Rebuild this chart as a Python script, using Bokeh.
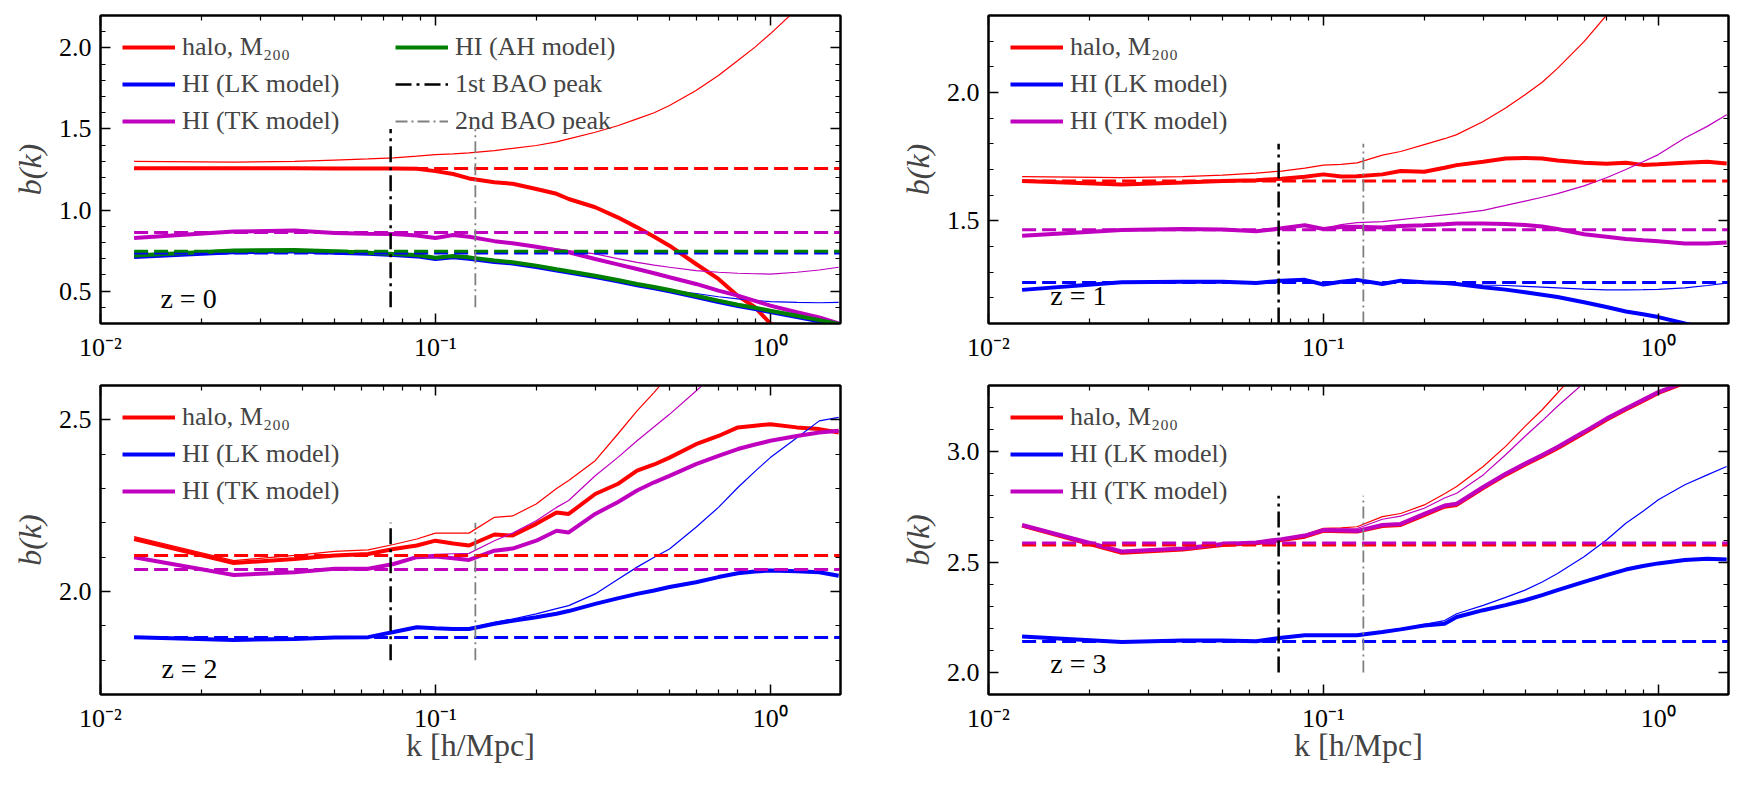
import numpy as np
from bokeh.plotting import figure
from bokeh.models import (Range1d, FixedTicker, LinearAxis, LogAxis, Legend, LegendItem,
                          PrintfTickFormatter, CustomJSTickFormatter)
from bokeh.layouts import column, row
from bokeh.embed import file_html
from bokeh.resources import INLINE
from bokeh.core.properties import value

# ---------------------------------------------------------------- data
# wavenumbers k [h/Mpc]
K = [0.0126, 0.025, 0.038, 0.05, 0.063, 0.075, 0.088, 0.1, 0.113, 0.126, 0.15, 0.17,
     0.2, 0.23, 0.25, 0.3, 0.35, 0.4, 0.45, 0.5, 0.6, 0.7, 0.8, 0.9, 1.0, 1.2, 1.4, 1.6]

# z = 0
Z0_HALO = [1.258, 1.257, 1.257, 1.256, 1.256, 1.256, 1.254, 1.24, 1.222, 1.195, 1.171, 1.162,
           1.13, 1.10, 1.068, 1.017, 0.955, 0.893, 0.835, 0.78, 0.667, 0.575, 0.47, 0.40, 0.30, 0.22, 0.16, 0.10]
Z0_HALO_THIN = [1.30, 1.295, 1.30, 1.308, 1.315, 1.322, 1.332, 1.342, 1.346, 1.352, 1.367, 1.38,
                1.398, 1.42, 1.439, 1.48, 1.52, 1.562, 1.60, 1.645, 1.737, 1.83, 1.922, 2.005, 2.087, 2.24, 2.38, 2.55]
Z0_LK = [0.71, 0.74, 0.745, 0.737, 0.73, 0.722, 0.714, 0.698, 0.709, 0.70, 0.68, 0.67,
         0.649, 0.627, 0.614, 0.587, 0.56, 0.536, 0.517, 0.499, 0.463, 0.433, 0.408, 0.389, 0.371, 0.34, 0.313, 0.289]
Z0_LK_THIN = [0.71, 0.74, 0.745, 0.737, 0.73, 0.722, 0.714, 0.698, 0.709, 0.70, 0.68, 0.67,
              0.649, 0.627, 0.614, 0.587, 0.56, 0.538, 0.522, 0.505, 0.485, 0.465, 0.452, 0.442, 0.435, 0.43, 0.428, 0.43]
Z0_TK = [0.828, 0.868, 0.873, 0.858, 0.853, 0.852, 0.843, 0.828, 0.846, 0.835, 0.808, 0.795,
         0.774, 0.752, 0.739, 0.698, 0.665, 0.636, 0.61, 0.585, 0.544, 0.503, 0.472, 0.44, 0.41, 0.369, 0.338, 0.301]
Z0_TK_THIN = [0.828, 0.868, 0.873, 0.858, 0.853, 0.852, 0.843, 0.828, 0.846, 0.835, 0.808, 0.795,
              0.776, 0.76, 0.75, 0.729, 0.70, 0.677, 0.66, 0.647, 0.626, 0.616, 0.61, 0.607, 0.605, 0.616, 0.63, 0.647]
Z0_AH = [0.719, 0.75, 0.754, 0.745, 0.737, 0.729, 0.722, 0.706, 0.717, 0.708, 0.688, 0.678,
         0.657, 0.635, 0.622, 0.595, 0.568, 0.544, 0.525, 0.507, 0.471, 0.441, 0.416, 0.397, 0.379, 0.348, 0.321, 0.297]
Z0_CONST = {"halo": 1.256, "LK": 0.735, "TK": 0.862, "AH": 0.745}

# z = 1
Z1_HALO = [1.655, 1.642, 1.649, 1.655, 1.658, 1.664, 1.672, 1.681, 1.673, 1.674, 1.681, 1.694,
           1.691, 1.707, 1.717, 1.73, 1.743, 1.745, 1.743, 1.735, 1.726, 1.722, 1.726, 1.718, 1.72, 1.726, 1.73, 1.723]
Z1_HALO_THIN = [1.672, 1.668, 1.672, 1.678, 1.686, 1.694, 1.705, 1.717, 1.72, 1.726, 1.756, 1.77,
                1.797, 1.82, 1.836, 1.887, 1.94, 1.991, 2.04, 2.094, 2.198, 2.301, 2.42, 2.52, 2.62, 2.8, 2.95, 3.1]
Z1_LK = [1.231, 1.261, 1.263, 1.263, 1.258, 1.267, 1.27, 1.252, 1.263, 1.27, 1.254, 1.267,
         1.261, 1.258, 1.254, 1.241, 1.232, 1.222, 1.212, 1.203, 1.183, 1.164, 1.147, 1.136, 1.125, 1.10, 1.08, 1.06]
Z1_LK_THIN = [1.231, 1.261, 1.263, 1.263, 1.258, 1.267, 1.27, 1.252, 1.263, 1.27, 1.254, 1.267,
              1.261, 1.258, 1.255, 1.25, 1.248, 1.245, 1.242, 1.239, 1.234, 1.231, 1.231, 1.232, 1.233, 1.239, 1.248, 1.257]
Z1_TK = [1.442, 1.464, 1.468, 1.466, 1.459, 1.471, 1.483, 1.468, 1.476, 1.477, 1.474, 1.48,
         1.483, 1.487, 1.49, 1.49, 1.488, 1.484, 1.478, 1.468, 1.448, 1.438, 1.429, 1.424, 1.42, 1.412, 1.412, 1.416]
Z1_TK_THIN = [1.442, 1.464, 1.468, 1.466, 1.459, 1.471, 1.483, 1.47, 1.485, 1.493, 1.497, 1.505,
              1.515, 1.523, 1.528, 1.541, 1.56, 1.577, 1.592, 1.606, 1.636, 1.668, 1.70, 1.73, 1.758, 1.823, 1.868, 1.913]
Z1_CONST = {"halo": 1.655, "LK": 1.26, "TK": 1.465}

# z = 2
Z2_HALO = [2.153, 2.083, 2.095, 2.105, 2.109, 2.124, 2.134, 2.148, 2.14, 2.134, 2.166, 2.163,
           2.197, 2.23, 2.226, 2.284, 2.313, 2.352, 2.37, 2.39, 2.429, 2.453, 2.478, 2.483, 2.487, 2.478, 2.473, 2.463]
Z2_HALO_THIN = [2.16, 2.09, 2.105, 2.117, 2.121, 2.137, 2.153, 2.17, 2.17, 2.17, 2.216, 2.22,
                2.255, 2.30, 2.323, 2.381, 2.458, 2.526, 2.58, 2.633, 2.75, 2.85, 2.95, 3.03, 3.10, 3.25, 3.35, 3.45]
Z2_LK = [1.867, 1.859, 1.862, 1.866, 1.867, 1.882, 1.896, 1.893, 1.891, 1.891, 1.906, 1.915,
         1.925, 1.935, 1.943, 1.964, 1.98, 1.993, 2.003, 2.013, 2.027, 2.042, 2.053, 2.058, 2.061, 2.059, 2.056, 2.046]
Z2_LK_THIN = [1.867, 1.859, 1.862, 1.866, 1.867, 1.882, 1.896, 1.894, 1.893, 1.893, 1.91, 1.92,
              1.935, 1.95, 1.959, 1.993, 2.035, 2.071, 2.10, 2.124, 2.187, 2.245, 2.303, 2.35, 2.39, 2.448, 2.497, 2.507]
Z2_TK = [2.10, 2.048, 2.056, 2.066, 2.066, 2.08, 2.10, 2.102, 2.097, 2.092, 2.119, 2.125,
         2.148, 2.177, 2.172, 2.226, 2.26, 2.294, 2.318, 2.337, 2.371, 2.395, 2.415, 2.428, 2.439, 2.453, 2.463, 2.468]
Z2_TK_THIN = [2.10, 2.048, 2.056, 2.066, 2.066, 2.082, 2.103, 2.108, 2.11, 2.111, 2.148, 2.17,
              2.206, 2.245, 2.265, 2.337, 2.39, 2.439, 2.48, 2.516, 2.584, 2.643, 2.70, 2.75, 2.80, 2.90, 3.00, 3.10]
Z2_CONST = {"halo": 2.105, "LK": 1.866, "TK": 2.064}

# z = 3
Z3_HALO = [2.665, 2.542, 2.557, 2.577, 2.585, 2.60, 2.615, 2.642, 2.64, 2.638, 2.663, 2.668,
           2.713, 2.751, 2.759, 2.835, 2.895, 2.941, 2.98, 3.016, 3.085, 3.145, 3.191, 3.23, 3.266, 3.312, 3.36, 3.40]
Z3_HALO_THIN = [2.665, 2.545, 2.56, 2.58, 2.588, 2.605, 2.625, 2.653, 2.655, 2.66, 2.706, 2.72,
                2.759, 2.81, 2.842, 2.933, 3.024, 3.115, 3.19, 3.266, 3.40, 3.52, 3.63, 3.72, 3.80, 3.95, 4.05, 4.15]
Z3_LK = [2.163, 2.138, 2.145, 2.145, 2.141, 2.157, 2.168, 2.168, 2.168, 2.168, 2.183, 2.195,
         2.213, 2.221, 2.251, 2.282, 2.305, 2.327, 2.35, 2.373, 2.41, 2.441, 2.466, 2.482, 2.494, 2.509, 2.515, 2.512]
Z3_LK_THIN = [2.163, 2.138, 2.145, 2.145, 2.141, 2.157, 2.168, 2.168, 2.168, 2.168, 2.185, 2.198,
              2.218, 2.235, 2.266, 2.304, 2.34, 2.373, 2.41, 2.448, 2.524, 2.60, 2.676, 2.73, 2.782, 2.85, 2.895, 2.933]
Z3_TK = [2.668, 2.548, 2.562, 2.582, 2.589, 2.604, 2.62, 2.645, 2.643, 2.641, 2.668, 2.673,
         2.718, 2.756, 2.764, 2.84, 2.90, 2.946, 2.985, 3.021, 3.09, 3.15, 3.196, 3.235, 3.27, 3.316, 3.365, 3.405]
Z3_TK_THIN = [2.668, 2.548, 2.562, 2.582, 2.589, 2.604, 2.62, 2.648, 2.65, 2.652, 2.694, 2.708,
              2.744, 2.79, 2.812, 2.895, 2.986, 3.07, 3.14, 3.206, 3.312, 3.42, 3.52, 3.60, 3.68, 3.80, 3.90, 4.00]
Z3_CONST = {"halo": 2.577, "LK": 2.14, "TK": 2.586}

# BAO peak positions [h/Mpc]
BAO_K = [0.0735, 0.1316]

# axes
X_MIN, X_MAX = 0.01, 1.62
X_MAJOR = [0.01, 0.1, 1.0]
X_MINOR = [0.02, 0.03, 0.04, 0.05, 0.06, 0.07, 0.08, 0.09,
           0.2, 0.3, 0.4, 0.5, 0.6, 0.7, 0.8, 0.9]
Y0_TICKS = [0.5, 1.0, 1.5, 2.0]
Y1_TICKS = [1.5, 2.0]
Y2_TICKS = [2.0, 2.5]
Y3_TICKS = [2.0, 2.5, 3.0]

LABELS = {"halo": "halo, M\u2082\u2080\u2080", "LK": "HI (LK model)",
          "TK": "HI (TK model)", "AH": "HI (AH model)"}
COLORS = {"halo": "#ff0000", "LK": "#0000ff", "TK": "#bf00bf", "AH": "#008000"}

FONT = "Liberation Serif"
TICK_SIZE = "26px"


def tenths(lo, hi):
    return [round(v, 1) for v in np.arange(lo, hi + 1e-9, 0.1)]


def style_axis(ax, labels=True):
    ax.major_tick_in = 10
    ax.major_tick_out = 0
    ax.minor_tick_in = 5
    ax.minor_tick_out = 0
    ax.major_tick_line_width = 1.5
    ax.minor_tick_line_width = 1.2
    ax.axis_line_width = 2
    ax.axis_line_color = "black"
    ax.major_tick_line_color = "black"
    ax.minor_tick_line_color = "black"
    ax.major_label_text_font = FONT
    if labels:
        ax.major_label_text_color = "black"
        ax.major_label_text_font_size = TICK_SIZE
        ax.major_label_standoff = 9
    else:
        # tick marks only on the mirrored sides
        ax.major_label_text_alpha = 0
        ax.major_label_text_font_size = "1px"
        ax.major_label_standoff = 0


x_fmt = CustomJSTickFormatter(code="""
    const e = Math.round(Math.log10(tick));
    const sup = {"-2": "\u207b\u00b2", "-1": "\u207b\u00b9", "0": "\u2070"};
    return "10" + sup[String(e)];
""")


def make_panel(curves, consts, ylim, yticks, bao_y, ztext, zpos, left_col, bottom_row, two_col_legend):
    fh = 309 if bottom_row else 308
    p = figure(x_axis_type="log", x_range=Range1d(X_MIN, X_MAX), y_range=Range1d(*ylim),
               frame_width=740, frame_height=fh,
               min_border_left=100, min_border_right=48 if left_col else 16,
               min_border_top=15, min_border_bottom=94 if bottom_row else 47,
               output_backend="svg", toolbar_location=None,
               background_fill_color="white", border_fill_color="white")
    p.xgrid.visible = False
    p.ygrid.visible = False
    p.outline_line_color = "black"
    p.outline_line_width = 2

    xt = FixedTicker(ticks=X_MAJOR, minor_ticks=X_MINOR)
    yt = FixedTicker(ticks=yticks, minor_ticks=tenths(*ylim))
    p.xaxis.ticker = xt
    p.xaxis.formatter = x_fmt
    p.yaxis.ticker = yt
    p.yaxis.formatter = PrintfTickFormatter(format="%.1f")
    style_axis(p.xaxis[0])
    style_axis(p.yaxis[0])
    p.yaxis.axis_label = "b(k)"
    p.yaxis.axis_label_text_font = FONT
    p.yaxis.axis_label_text_font_size = "32px"
    p.yaxis.axis_label_text_font_style = "italic"
    p.yaxis.axis_label_standoff = 8
    if bottom_row:
        p.xaxis.axis_label = "k [h/Mpc]"
        p.xaxis.axis_label_text_font = FONT
        p.xaxis.axis_label_text_font_size = "32px"
        p.xaxis.axis_label_text_font_style = "normal"
        p.xaxis.axis_label_standoff = -9

    top = LogAxis(ticker=FixedTicker(ticks=X_MAJOR, minor_ticks=X_MINOR))
    style_axis(top, labels=False)
    p.add_layout(top, "above")
    right = LinearAxis(ticker=FixedTicker(ticks=yticks, minor_ticks=tenths(*ylim)))
    style_axis(right, labels=False)
    p.add_layout(right, "right")

    thick = {}
    for name, (main, thin) in curves.items():
        col = COLORS[name]
        if thin is not None:
            p.line(K, thin, line_color=col, line_width=1.2)
        thick[name] = p.line(K, main, line_color=col, line_width=4)
    for name in curves:
        p.line([K[0], X_MAX], [consts[name]] * 2, line_color=COLORS[name],
               line_width=3, line_dash="14 6")

    bao1 = p.line([BAO_K[0]] * 2, list(bao_y), line_color="black", line_width=2.5,
                  line_dash="16 5 3 5")
    bao2 = p.line([BAO_K[1]] * 2, list(bao_y), line_color="#808080", line_width=1.8,
                  line_dash="12 4 2 4")

    p.text(x=[zpos[0]], y=[zpos[1]], text=[ztext], text_font=value(FONT),
           text_font_size="28px", text_baseline="middle", text_align="left", text_color="black")

    def legend(items, x):
        lg = Legend(items=items, location=(x, 188 if bottom_row else 187),
                    background_fill_alpha=0, border_line_alpha=0, padding=0, margin=0,
                    spacing=7, glyph_width=53, glyph_height=30, label_height=30,
                    label_standoff=7, label_text_font=FONT, label_text_font_size="26px",
                    label_text_baseline="middle")
        p.add_layout(lg)

    col1 = [LegendItem(label=LABELS[n], renderers=[thick[n]]) for n in ["halo", "LK", "TK"]]
    legend(col1, 22)
    if two_col_legend:
        col2 = [LegendItem(label=LABELS["AH"], renderers=[thick["AH"]]),
                LegendItem(label="1st BAO peak", renderers=[bao1]),
                LegendItem(label="2nd BAO peak", renderers=[bao2])]
        legend(col2, 295)
    return p


p0 = make_panel({"halo": (Z0_HALO, Z0_HALO_THIN), "LK": (Z0_LK, Z0_LK_THIN),
                 "TK": (Z0_TK, Z0_TK_THIN), "AH": (Z0_AH, None)},
                Z0_CONST, (0.3, 2.2), Y0_TICKS, (0.4, 1.5), "z = 0", (0.0151, 0.453),
                True, False, True)
p1 = make_panel({"halo": (Z1_HALO, Z1_HALO_THIN), "LK": (Z1_LK, Z1_LK_THIN),
                 "TK": (Z1_TK, Z1_TK_THIN)},
                Z1_CONST, (1.1, 2.3), Y1_TICKS, (1.1, 1.8), "z = 1", (0.0153, 1.209),
                False, False, False)
p2 = make_panel({"halo": (Z2_HALO, Z2_HALO_THIN), "LK": (Z2_LK, Z2_LK_THIN),
                 "TK": (Z2_TK, Z2_TK_THIN)},
                Z2_CONST, (1.7, 2.6), Y2_TICKS, (1.8, 2.2), "z = 2", (0.0152, 1.776),
                True, True, False)
p3 = make_panel({"halo": (Z3_HALO, Z3_HALO_THIN), "LK": (Z3_LK, Z3_LK_THIN),
                 "TK": (Z3_TK, Z3_TK_THIN)},
                Z3_CONST, (1.9, 3.3), Y3_TICKS, (2.0, 2.8), "z = 3", (0.0153, 2.041),
                False, True, False)

layout = column(row(p0, p1), row(p2, p3))
with open("out.html", "w", encoding="utf-8") as f:
    f.write(file_html(layout, INLINE))
